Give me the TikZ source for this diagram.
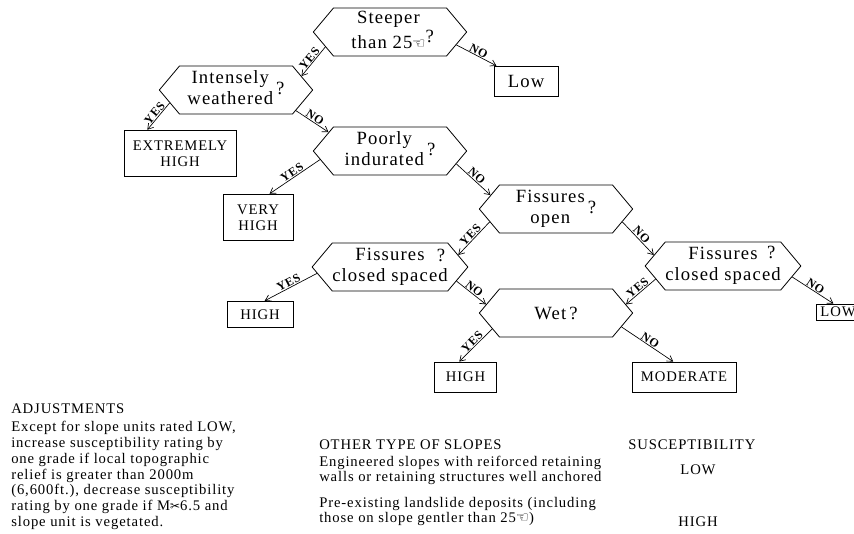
\documentclass[tikz,border=0pt]{standalone}
\usepackage{fontspec}
\setmainfont[LetterSpace=6]{Liberation Serif}
\newfontfamily\symfont{DejaVu Sans}
\usetikzlibrary{shapes.symbols,arrows.meta}

% odd glyphs as printed in the chart
\newcommand{\hand}{{\symfont\fontsize{11}{11}\selectfont ☜}}
\newcommand{\sciss}{{\symfont\fontsize{9}{9}\selectfont ✂}}
% two-line question with the mark at the right
\newcommand{\twoq}[2]{\begin{tabular}{@{}c@{}}#1\\#2\end{tabular}\,?}

\tikzset{
  ques/.style={draw, signal, signal to=west and east, signal pointer angle=100,
    line width=0.6pt, minimum width=115pt, minimum height=36pt, inner sep=0pt,
    font=\fontsize{14}{15.5}\selectfont},
  outc/.style={draw, rectangle, line width=0.6pt, inner sep=1pt, align=center,
    font=\fontsize{11}{12}\selectfont},
  link/.style={-{Straight Barb[length=4pt,width=5pt]}, line width=0.5pt},
  ans/.style={midway, above, sloped, inner sep=0.5pt, font=\fontsize{9}{9}\selectfont\bfseries},
  note/.style={inner sep=0pt, align=left, font=\fontsize{11}{11.8}\selectfont}
}

\begin{document}
\begin{tikzpicture}[x=0.75pt, y=-0.75pt]
    \useasboundingbox (0,0) rectangle (854,533);

    % Questions
    \node[ques] (steep) at (390,32) {\begin{tabular}{@{}c@{}}Steeper\\than 25\hand\rlap{\raisebox{5pt}{?}}\end{tabular}\,};
    \node[ques] (intense) at (236,90) {\twoq{Intensely}{weathered}};
    \node[ques] (poorly) at (390,151) {\twoq{Poorly}{indurated}};
    \node[ques] (fopen) at (556,209) {\twoq{Fissures}{open}};
    \node[ques] (fcsl) at (390,267) {\begin{tabular}{@{}c@{}}Fissures\\closed spaced\end{tabular}\llap{\raisebox{8pt}{?}\hspace{2pt}}};
    \node[ques] (wet) at (556,313) {Wet\,?};
    \node[ques] (fcsr) at (723,266) {\begin{tabular}{@{}c@{}}Fissures\\closed spaced\end{tabular}\llap{\raisebox{9pt}{?}\hspace{4pt}}};

    % Ratings
    \node[outc, minimum width=48pt, minimum height=23pt, font=\fontsize{14}{15}\selectfont] (low) at (526,81.5) {Low};
    \node[outc, minimum width=84pt, minimum height=35pt] (xhigh) at (180,153.5) {EXTREMELY\\HIGH};
    \node[outc, minimum width=52.5pt, minimum height=35pt] (vhigh) at (258,217.5) {VERY\\HIGH};
    \node[outc, minimum width=49.5pt, minimum height=20pt] (highl) at (260,314.5) {HIGH};
    \node[outc, minimum width=32.5pt, minimum height=12pt, anchor=west] (lowr) at (816,312) {LOW};
    \node[outc, minimum width=47pt, minimum height=22.5pt] (highw) at (465.5,377) {HIGH};
    \node[outc, minimum width=78pt, minimum height=22.5pt] (moder) at (684,377) {MODERATE};

    % Branches
    \draw[link] (steep.193) -- node[ans] {YES} (intense.12);
    \draw[link] (steep.349) -- node[ans] {NO} (low.152);
    \draw[link] (intense.191) -- node[ans] {YES} (xhigh.144);
    \draw[link] (intense.341) -- node[ans] {NO} (poorly.163);
    \draw[link] (poorly.187) -- node[ans] {YES} (vhigh.64);
    \draw[link] (poorly.349) -- node[ans] {NO} (fopen.168);
    \draw[link] (fopen.191) -- node[ans] {YES} (fcsl.10);
    \draw[link] (fopen.349) -- node[ans] {NO} (fcsr.171);
    \draw[link] (fcsl.185) -- node[ans] {YES} (highl.71);
    \draw[link] (fcsl.348) -- node[ans] {NO} (wet.173);
    \draw[link] (fcsr.191) -- node[ans] {YES} (wet.7);
    \draw[link] (fcsr.351) -- node[ans] {NO} (lowr.119);
    \draw[link] (wet.194) -- node[ans] {YES} (highw.112);
    \draw[link] (wet.348) -- node[ans] {NO} (moder.125);

    % Adjustments
    \node[note, anchor=north west] (adjust) at (11,404) {ADJUSTMENTS\\[1.7pt]
      Except for slope units rated LOW,\\
      increase susceptibility rating by\\
      one grade if local topographic\\
      relief is greater than 2000m\\
      (6,600ft.), decrease susceptibility\\
      rating by one grade if M\sciss6.5 and\\
      slope unit is vegetated.};

    % Other slopes
    \node[note, anchor=base west] (other) at (319,449) {OTHER TYPE OF SLOPES};
    \node[note, anchor=base west] (suscep) at (628,449) {SUSCEPTIBILITY};
    \node[note, anchor=north west, font=\fontsize{11}{10}\selectfont] (engin) at (319,456) {Engineered slopes with reiforced retaining\\walls or retaining structures well anchored};
    \node[note, anchor=north west, font=\fontsize{11}{11.3}\selectfont] (preex) at (319,497) {Pre-existing landslide deposits (including\\those on slope gentler than 25\hand)};
    \node[note, anchor=base] (slow) at (698,474) {LOW};
    \node[note, anchor=base] (shigh) at (698,526) {HIGH};
\end{tikzpicture}
\end{document}
